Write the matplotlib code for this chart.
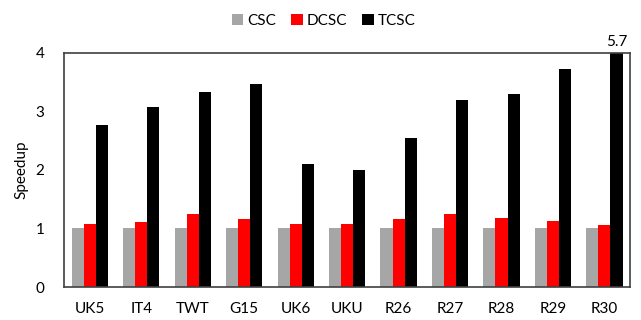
import numpy as np
import matplotlib.pyplot as plt

plt.rcParams['font.family'] = ['Lato', 'DejaVu Sans']

datasets = ["UK5", "IT4", "TWT", "G15", "UK6", "UKU", "R26", "R27", "R28", "R29", "R30"]
csc = [1.0, 1.0, 1.0, 1.0, 1.0, 1.0, 1.0, 1.0, 1.0, 1.0, 1.0]
dcsc = [1.07, 1.11, 1.25, 1.16, 1.08, 1.08, 1.17, 1.25, 1.18, 1.13, 1.06]
tcsc = [2.77, 3.08, 3.33, 3.46, 2.10, 2.00, 2.54, 3.20, 3.30, 3.73, 5.7]

series = [("CSC", csc, "#a6a6a6"), ("DCSC", dcsc, "#ff0000"), ("TCSC", tcsc, "#000000")]
ymax = 4

fig, ax = plt.subplots(figsize=(6.41, 3.2), dpi=100)
fig.subplots_adjust(left=0.1, right=0.983, top=0.835, bottom=0.103)

x = np.arange(len(datasets))
w = 0.235
for i, (name, vals, color) in enumerate(series):
    ax.bar(x + (i - 1) * w, vals, w, color=color, label=name, zorder=2)

# annotate bars that run past the top of the axis
for xi, v in zip(x, tcsc):
    if v > ymax:
        ax.text(xi + w, ymax + 0.07, f"{v:g}", ha="center", va="bottom", fontsize=11)

ax.set_xlim(-0.5, len(datasets) - 0.5)
ax.set_ylim(0, ymax)
ax.set_yticks(range(0, ymax + 1))
ax.set_xticks(x)
ax.set_xticklabels(datasets)
ax.tick_params(length=0, labelsize=11)
ax.tick_params(axis="y", pad=14)
ax.tick_params(axis="x", pad=11)
ax.set_ylabel("Speedup", fontsize=11, labelpad=5)
for s in ax.spines.values():
    s.set_color("#404040")
    s.set_linewidth(1.2)

ax.legend(loc="upper center", bbox_to_anchor=(0.505, 1.0), bbox_transform=fig.transFigure,
          ncol=3, frameon=False, fontsize=11, handlelength=0.75, handleheight=0.75,
          handletextpad=0.25, columnspacing=1.0)

fig.savefig("out.png", dpi=100)
